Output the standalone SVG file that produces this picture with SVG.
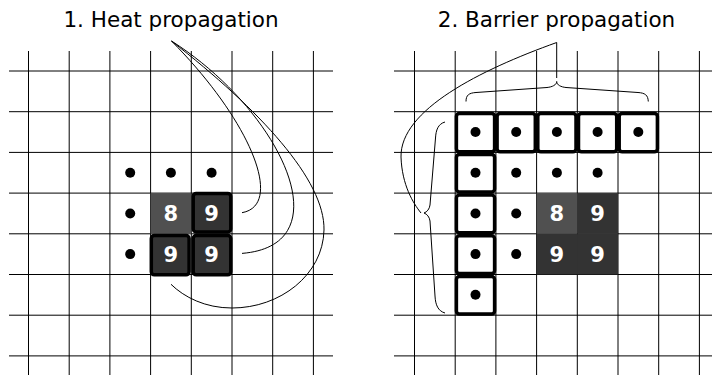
<svg xmlns="http://www.w3.org/2000/svg" width="712" height="375" viewBox="0 0 712 375">
<style>
.grid line{stroke:#000;stroke-width:1}
.title{font-family:"DejaVu Sans","Liberation Sans",sans-serif;font-size:21.5px;fill:#000;text-anchor:middle}
.num{font-family:"DejaVu Sans","Liberation Sans",sans-serif;font-size:21px;font-weight:bold;fill:#fff;text-anchor:middle}
.dot{fill:#000}
.box{stroke:#000;stroke-width:3.5}
.dark{fill:#333}
.mid{fill:#505050}
.white{fill:#fff}
.conn path{fill:none;stroke:#000;stroke-width:1}
</style>
<rect width="712" height="375" fill="#fff"/>
<g id="title1"><text class="title" x="171" y="27">1. Heat propagation</text></g>
<g id="title2"><text class="title" x="556.5" y="27">2. Barrier propagation</text></g>

<g id="grid1" class="grid">
<line x1="28.5" y1="51" x2="28.5" y2="375"/>
<line x1="69.2" y1="51" x2="69.2" y2="375"/>
<line x1="109.9" y1="51" x2="109.9" y2="375"/>
<line x1="150.6" y1="51" x2="150.6" y2="375"/>
<line x1="191.3" y1="51" x2="191.3" y2="375"/>
<line x1="232" y1="51" x2="232" y2="375"/>
<line x1="272.7" y1="51" x2="272.7" y2="375"/>
<line x1="313.4" y1="51" x2="313.4" y2="375"/>
<line x1="9" y1="71" x2="333" y2="71"/>
<line x1="9" y1="111.7" x2="333" y2="111.7"/>
<line x1="9" y1="152.4" x2="333" y2="152.4"/>
<line x1="9" y1="193.1" x2="333" y2="193.1"/>
<line x1="9" y1="233.8" x2="333" y2="233.8"/>
<line x1="9" y1="274.5" x2="333" y2="274.5"/>
<line x1="9" y1="315.2" x2="333" y2="315.2"/>
<line x1="9" y1="355.9" x2="333" y2="355.9"/>
</g>

<g id="grid2" class="grid">
<line x1="414.5" y1="51" x2="414.5" y2="375"/>
<line x1="455.2" y1="51" x2="455.2" y2="375"/>
<line x1="495.9" y1="51" x2="495.9" y2="375"/>
<line x1="536.6" y1="51" x2="536.6" y2="375"/>
<line x1="577.3" y1="51" x2="577.3" y2="375"/>
<line x1="618" y1="51" x2="618" y2="375"/>
<line x1="658.7" y1="51" x2="658.7" y2="375"/>
<line x1="699.4" y1="51" x2="699.4" y2="375"/>
<line x1="394" y1="71" x2="712" y2="71"/>
<line x1="394" y1="111.7" x2="712" y2="111.7"/>
<line x1="394" y1="152.4" x2="712" y2="152.4"/>
<line x1="394" y1="193.1" x2="712" y2="193.1"/>
<line x1="394" y1="233.8" x2="712" y2="233.8"/>
<line x1="394" y1="274.5" x2="712" y2="274.5"/>
<line x1="394" y1="315.2" x2="712" y2="315.2"/>
<line x1="394" y1="355.9" x2="712" y2="355.9"/>
</g>

<!-- Left panel cells -->
<g id="L-dot-r1c1"><circle class="dot" cx="130.2" cy="172.8" r="5"/></g>
<g id="L-dot-r1c2"><circle class="dot" cx="170.9" cy="172.8" r="5"/></g>
<g id="L-dot-r1c3"><circle class="dot" cx="211.6" cy="172.8" r="5"/></g>
<g id="L-dot-r2c1"><circle class="dot" cx="130.2" cy="213.5" r="5"/></g>
<g id="L-dot-r3c1"><circle class="dot" cx="130.2" cy="254.1" r="5"/></g>
<g id="L-8"><rect class="mid" x="150.6" y="193.1" width="40.7" height="40.7"/><text class="num" x="170.9" y="221.2">8</text></g>
<g id="L-9a"><rect class="box dark" x="193.2" y="193.4" width="37.6" height="38.6" rx="3"/><text class="num" x="211.6" y="221.2">9</text></g>
<g id="L-9b"><rect class="box dark" x="151.3" y="235.6" width="37.8" height="39.2" rx="3"/><text class="num" x="170.9" y="261.8">9</text></g>
<g id="L-9c"><rect class="box dark" x="193.2" y="235.6" width="37.6" height="39.2" rx="3"/><text class="num" x="211.6" y="261.8">9</text></g>

<!-- Right panel cells -->
<g id="R-8"><rect class="mid" x="536.6" y="193.1" width="40.7" height="40.7"/><text class="num" x="556.9" y="221.2">8</text></g>
<g id="R-9a"><rect class="dark" x="577.3" y="193.1" width="40.7" height="40.7"/><text class="num" x="597.6" y="221.2">9</text></g>
<g id="R-9b"><rect class="dark" x="536.6" y="233.8" width="40.7" height="40.7"/><text class="num" x="556.9" y="261.8">9</text></g>
<g id="R-9c"><rect class="dark" x="577.3" y="233.8" width="40.7" height="40.7"/><text class="num" x="597.6" y="261.8">9</text></g>

<g id="R-b1"><rect class="box white" x="456.4" y="113.4" width="38.2" height="38.4" rx="3"/><circle class="dot" cx="475.5" cy="132" r="5"/></g>
<g id="R-b2"><rect class="box white" x="497.1" y="113.4" width="38.2" height="38.4" rx="3"/><circle class="dot" cx="516.2" cy="132" r="5"/></g>
<g id="R-b3"><rect class="box white" x="537.8" y="113.4" width="38.2" height="38.4" rx="3"/><circle class="dot" cx="556.9" cy="132" r="5"/></g>
<g id="R-b4"><rect class="box white" x="578.5" y="113.4" width="38.2" height="38.4" rx="3"/><circle class="dot" cx="597.6" cy="132" r="5"/></g>
<g id="R-b5"><rect class="box white" x="619.2" y="113.4" width="38.2" height="38.4" rx="3"/><circle class="dot" cx="638.3" cy="132" r="5"/></g>
<g id="R-b6"><rect class="box white" x="456.4" y="154.4" width="38.2" height="37.6" rx="3"/><circle class="dot" cx="475.5" cy="172.8" r="5"/></g>
<g id="R-b7"><rect class="box white" x="456.4" y="195.1" width="38.2" height="37.6" rx="3"/><circle class="dot" cx="475.5" cy="213.5" r="5"/></g>
<g id="R-b8"><rect class="box white" x="456.4" y="235.8" width="38.2" height="37.6" rx="3"/><circle class="dot" cx="475.5" cy="254.1" r="5"/></g>
<g id="R-b9"><rect class="box white" x="456.4" y="276.5" width="38.2" height="37.6" rx="3"/><circle class="dot" cx="475.5" cy="294.8" r="5"/></g>

<g id="R-dot-r2c2"><circle class="dot" cx="516.2" cy="172.8" r="5"/></g>
<g id="R-dot-r2c3"><circle class="dot" cx="556.9" cy="172.8" r="5"/></g>
<g id="R-dot-r2c4"><circle class="dot" cx="597.6" cy="172.8" r="5"/></g>
<g id="R-dot-r3c2"><circle class="dot" cx="516.2" cy="213.5" r="5"/></g>
<g id="R-dot-r4c2"><circle class="dot" cx="516.2" cy="254.1" r="5"/></g>

<g id="connectors" class="conn">
<path d="M171.5,41 C250,120 285,205 242,212.7"/>
<path d="M171.5,41 C280,110 345,245 242,253.4"/>
<path d="M171.5,41 C260,110 325,180 324,230 C323,275 280,308 232,308 C205,308 184,297 171,284.3"/>
<path d="M466,101.5 C466,95 469,93 476,92.5 L547,87.5 C552,87 556.7,85 556.7,81.5 C556.7,85 561,87 566,87.5 L638,92.5 C645,93 648,95 648.3,101.5"/>
<path d="M556.7,42.5 L556.7,78"/>
<path d="M556.7,42.5 C480,70 400,110 401,157 C402,185 413,203 421,213"/>
<path d="M445,122 C438,124 436,130 435.5,138 L430,205 C429.5,209 427,212 424,213 C427,214 429.5,217 430,221 L435,296 C435.5,305 438,311 445,313"/>
</g>
</svg>
